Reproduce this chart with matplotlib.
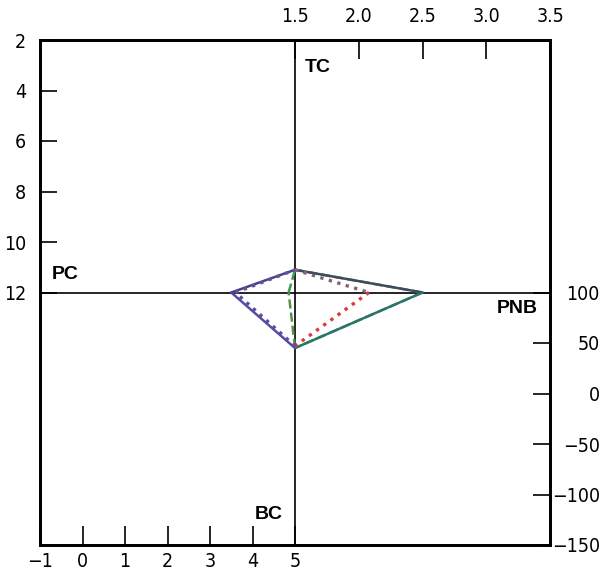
import matplotlib
matplotlib.use("Agg")
import matplotlib.pyplot as plt
from matplotlib import font_manager as fm

# pick a narrow face for the tick numbers if one is installed
fonts = fm.fontManager.ttflist
narrow = [f for f in fonts if 'Narrow' in f.name or 'Condensed' in f.name
          or f.stretch in ('condensed', 'semi-condensed', 'extra-condensed', 600, 700)]
if narrow:
    plt.rcParams['font.family'] = [narrow[0].name, 'DejaVu Sans']
    plt.rcParams['font.stretch'] = narrow[0].stretch
else:
    plt.rcParams['font.family'] = ['Liberation Sans', 'DejaVu Sans']

# axis scales (one per half-axis)
pc_ticks = [-1, 0, 1, 2, 3, 4, 5]          # bottom, left half of horizontal line
tc_ticks = [2, 4, 6, 8, 10, 12]            # left, upper half of vertical line
pnb_ticks = [1.5, 2.0, 2.5, 3.0, 3.5]      # top, right half of horizontal line
bc_ticks = [100, 50, 0, -50, -100, -150]   # right, lower half of vertical line

# series values: TC, PNB, BC, PC
solid_vals = [11.1, 2.5, 45, 3.5]
dotted_vals = [11.1, 2.08, 47, 3.6]
dashed_vals = [11.1, 2.5, 45, 4.85]


def minus(v):
    return str(v).replace('-', '\u2212')


fig = plt.figure(figsize=(6.03, 5.75), dpi=100)
ax = fig.add_axes([40 / 603, 30 / 575, 510 / 603, 505 / 575])
ax.set_xlim(-1, 11)
ax.set_ylim(22, 2)
ax_top = ax.twiny()
ax_top.set_xlim(-0.5, 3.5)
ax_right = ax.twinx()
ax_right.set_ylim(-150, 350)

for a in (ax, ax_top, ax_right):
    for s in a.spines.values():
        s.set_linewidth(1.8)

ax.set_xticks(pc_ticks)
ax.set_xticklabels([minus(v) for v in pc_ticks])
ax.set_yticks(tc_ticks)
ax.set_yticklabels([str(v) for v in tc_ticks])
ax_top.set_xticks(pnb_ticks)
ax_top.set_xticklabels(['%.1f' % v for v in pnb_ticks])
ax_right.set_yticks(bc_ticks)
ax_right.set_yticklabels([minus(v) for v in bc_ticks])

ax.tick_params(axis='x', direction='in', length=14, width=1.2, pad=5, labelsize=14)
ax.tick_params(axis='y', direction='in', length=12, width=1.2, pad=10, labelsize=14)
ax_top.tick_params(axis='x', direction='in', length=14, width=1.2, pad=10, labelsize=14)
ax_right.tick_params(axis='y', direction='in', length=12, width=1.2, pad=36, labelsize=14)
for lab in ax_right.get_yticklabels():
    lab.set_horizontalalignment('right')

# crosshair
ax.axvline(5, color='black', lw=1.2)
ax.axhline(12, color='black', lw=1.2)


def to_main(other, x, y):
    return ax.transData.inverted().transform(other.transData.transform((x, y)))


def vertices(vals):
    tc, pnb, bc, pc = vals
    top = (5, tc)
    right = tuple(to_main(ax_top, pnb, 12))
    bottom = tuple(to_main(ax_right, 5, bc))
    left = (pc, 12)
    return [top, right, bottom, left, top]


def draw(vals, colors, style, lw):
    pts = vertices(vals)
    for i in range(4):
        (x0, y0), (x1, y1) = pts[i], pts[i + 1]
        ax.plot([x0, x1], [y0, y1], style, color=colors[i], lw=lw,
                solid_capstyle='round', dash_capstyle='butt')


draw(dashed_vals, ['#3f8f4f', '#3f8f6f', '#5b8f4a', '#3f9a4f'], '--', 1.8)
draw(solid_vals, ['#3e4b5e', '#2b7468', '#5050a8', '#4a3f8f'], '-', 1.8)
draw(dotted_vals, ['#8a6070', '#d93a3a', '#5a4f9c', '#6a4f95'], ':', 2.4)

lab_font = dict(family=['Liberation Sans', 'DejaVu Sans'], fontweight='bold', fontsize=14,
                fontstretch='normal')
ax.text(0.52, 0.946, 'TC', transform=ax.transAxes, va='center', ha='left', **lab_font)
ax.text(0.0235, 0.535, 'PC', transform=ax.transAxes, va='center', ha='left', **lab_font)
ax.text(0.895, 0.469, 'PNB', transform=ax.transAxes, va='center', ha='left', **lab_font)
ax.text(0.4216, 0.061, 'BC', transform=ax.transAxes, va='center', ha='left', **lab_font)

fig.savefig('out.png', dpi=100)
